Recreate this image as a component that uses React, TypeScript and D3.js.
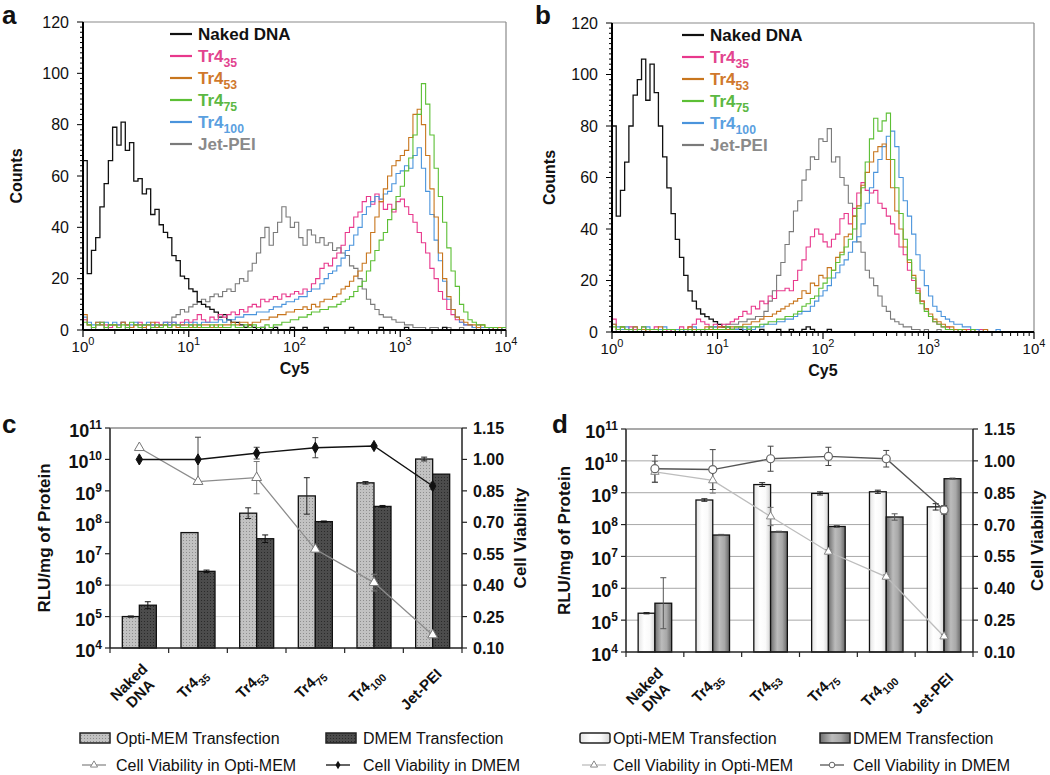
import React from 'react';
import * as d3 from 'd3';

const FONT = '"Liberation Sans", Arial, Helvetica, sans-serif';

// ---------- Histogram data (panels a, b) ----------
// channel i covers Cy5 = 10^(i*LOG_STEP)
const LOG_STEP = 0.04;
const HIST_NAMES = ['Naked DNA', 'Tr4', 'Tr4', 'Tr4', 'Tr4', 'Jet-PEI'];
const HIST_SUBS = ['', '35', '53', '75', '100', ''];
const HIST_COLORS = ['#111111', '#e8388c', '#c8761e', '#5cbf35', '#4a94dc', '#7a7a7a'];
const HIST_TEXT_COLORS = ['#111111', '#e2448f', '#d0782c', '#5cb843', '#5aa0e0', '#8a8a8a'];
const COUNT_TICKS = [0, 20, 40, 60, 80, 100, 120];
const CY5_DECADES = [0, 1, 2, 3, 4];

const aNaked = [66, 22, 31, 36, 48, 57, 66, 79, 72, 81, 70, 73, 58, 59, 53, 55, 45, 47, 41, 38, 36, 29, 27, 21, 20, 16, 15, 11, 10, 9, 8, 7, 5, 6, 4, 3, 3, 2, 1, 2,
  1, 0, 1, 0, 0, 1, 0, 0, 0, 1, 0, 0, 1, 0, 0, 0, 0, 1, 0, 0, 0, 0, 0, 1, 0, 0, 0, 0, 0, 0, 1, 0, 0, 0, 0, 0, 1, 0, 0, 0, 0, 0, 0, 0, 0, 1, 0, 0, 0, 0, 0, 0, 0, 0, 0, 0, 0, 0, 0, 0];
const aTr35 = [4, 2, 1, 2, 3, 2, 1, 2, 2, 3, 2, 1, 2, 3, 2, 2, 2, 3, 2, 3, 2, 3, 2, 3, 4, 3, 4, 6, 4, 3, 5, 4, 6, 5, 6, 7, 6, 8, 7, 9,
  10, 9, 12, 11, 12, 13, 12, 14, 13, 14, 15, 14, 16, 15, 18, 20, 24, 26, 25, 28, 30, 33, 38, 40, 44, 46, 50, 52, 49, 53, 50, 47, 49, 46, 50, 51, 48, 45, 42, 38,
  34, 30, 24, 20, 15, 12, 8, 6, 4, 3, 2, 2, 1, 2, 1, 1, 0, 1, 0, 1];
const aTr53 = [6, 2, 1, 3, 2, 1, 2, 2, 1, 3, 2, 1, 2, 2, 1, 2, 3, 1, 2, 2, 1, 2, 1, 2, 2, 1, 2, 1, 2, 2, 1, 2, 1, 2, 2, 3, 2, 3, 3, 2,
  3, 3, 4, 4, 5, 5, 6, 6, 7, 7, 8, 8, 9, 8, 10, 9, 11, 12, 12, 13, 14, 16, 17, 19, 21, 23, 26, 30, 38, 44, 50, 55, 60, 64, 66, 68, 70, 75, 84, 86,
  80, 68, 55, 44, 30, 20, 13, 8, 5, 4, 3, 2, 2, 1, 2, 1, 1, 0, 1, 1];
const aTr75 = [3, 2, 1, 2, 3, 1, 2, 2, 1, 2, 1, 3, 2, 1, 2, 2, 1, 2, 1, 2, 1, 2, 2, 1, 1, 2, 1, 2, 1, 1, 2, 1, 2, 1, 1, 2, 1, 1, 2, 1,
  2, 1, 1, 2, 1, 2, 2, 3, 3, 4, 4, 5, 5, 6, 7, 7, 8, 8, 9, 9, 10, 11, 12, 13, 15, 17, 19, 23, 27, 31, 35, 38, 43, 47, 52, 56, 62, 67, 76, 84,
  96, 88, 76, 63, 52, 42, 32, 23, 17, 10, 7, 4, 3, 2, 2, 1, 1, 1, 0, 1];
const aTr100 = [5, 3, 2, 3, 2, 3, 2, 3, 2, 3, 2, 2, 3, 2, 2, 3, 2, 2, 2, 3, 2, 3, 2, 2, 3, 2, 3, 2, 3, 3, 3, 3, 4, 3, 4, 4, 5, 5, 6, 6,
  6, 7, 7, 7, 8, 9, 9, 10, 11, 11, 12, 13, 13, 15, 16, 16, 18, 20, 22, 23, 25, 28, 31, 33, 37, 40, 45, 48, 50, 52, 51, 53, 54, 57, 61, 62, 64, 63, 68, 71,
  63, 54, 45, 35, 27, 19, 12, 8, 5, 3, 2, 2, 1, 1, 1, 1, 0, 1, 0, 1];
const aJet = [0, 0, 1, 0, 0, 1, 0, 0, 0, 0, 1, 0, 0, 0, 1, 0, 1, 1, 2, 2, 3, 5, 6, 8, 7, 9, 10, 11, 12, 11, 13, 14, 13, 15, 16, 15, 18, 20, 19, 23,
  26, 30, 36, 40, 33, 38, 42, 48, 44, 40, 42, 36, 33, 39, 37, 34, 36, 33, 34, 31, 32, 30, 29, 25, 24, 20, 16, 12, 10, 8, 6, 5, 5, 4, 3, 3, 2, 2, 1, 1,
  1, 0, 1, 1, 0, 0, 1, 0, 0, 1, 0, 0, 0, 1, 0, 0, 0, 1, 0, 0];

const bNaked = [80, 45, 55, 66, 80, 92, 98, 106, 90, 104, 93, 80, 68, 56, 46, 36, 29, 22, 16, 12, 9, 7, 6, 5, 4, 3, 2, 2, 1, 1, 1, 0, 1, 0, 0, 1, 0, 0, 0, 1,
  0, 0, 1, 0, 0, 1, 2, 1, 0, 0, 0, 1, 0, 0, 0, 0, 0, 0, 0, 0, 0, 0, 0, 0, 0, 0, 0, 0, 0, 0, 0, 0, 0, 0, 0, 0, 0, 0, 0, 0, 0, 0, 0, 0, 0, 0, 0, 0, 0, 0,
  0, 0, 0, 0, 0, 0, 0, 0, 0, 0];
const bTr35 = [5, 1, 2, 1, 2, 1, 1, 2, 1, 1, 2, 1, 1, 0, 1, 1, 2, 1, 2, 3, 5, 4, 3, 2, 3, 2, 3, 3, 4, 5, 6, 8, 7, 10, 9, 12, 11, 14, 13, 16,
  16, 17, 16, 20, 24, 28, 33, 37, 40, 38, 35, 33, 36, 38, 44, 46, 42, 48, 54, 58, 55, 54, 55, 50, 48, 45, 42, 38, 33, 30, 24, 20, 17, 12, 9, 6, 4, 3, 2, 2,
  1, 0, 1, 0, 1, 0, 0, 1, 0, 0, 0, 0, 0, 0, 0, 0, 0, 0, 0, 0];
const bTr53 = [3, 1, 2, 1, 1, 2, 1, 1, 0, 1, 1, 2, 1, 1, 1, 0, 1, 1, 2, 1, 1, 1, 2, 1, 1, 2, 2, 1, 2, 2, 2, 3, 3, 4, 4, 5, 6, 6, 7, 8,
  9, 10, 11, 12, 13, 16, 15, 19, 18, 22, 21, 25, 24, 29, 31, 37, 38, 45, 49, 57, 62, 66, 70, 72, 73, 67, 56, 47, 40, 33, 27, 22, 16, 12, 9, 7, 5, 4, 3, 2,
  2, 1, 1, 1, 0, 1, 0, 0, 1, 0, 0, 0, 0, 0, 0, 0, 0, 0, 0, 0];
const bTr75 = [2, 1, 2, 1, 1, 0, 1, 2, 1, 1, 1, 0, 1, 1, 1, 0, 1, 1, 1, 0, 1, 1, 1, 2, 1, 1, 1, 2, 1, 2, 2, 2, 1, 2, 2, 3, 3, 4, 4, 5,
  5, 6, 6, 7, 8, 10, 11, 13, 14, 17, 19, 21, 24, 27, 30, 33, 36, 40, 48, 56, 66, 75, 83, 78, 82, 85, 67, 56, 46, 36, 28, 21, 15, 11, 8, 6, 4, 3, 2, 1,
  1, 0, 1, 0, 0, 1, 0, 0, 0, 0, 0, 0, 0, 0, 0, 0, 0, 0, 0, 0];
const bTr100 = [3, 2, 1, 2, 1, 2, 1, 1, 2, 1, 1, 1, 2, 1, 1, 1, 0, 1, 1, 2, 1, 1, 1, 1, 2, 1, 1, 2, 1, 1, 2, 1, 2, 1, 2, 2, 3, 3, 3, 4,
  4, 5, 5, 6, 7, 8, 8, 10, 12, 14, 16, 18, 21, 23, 26, 28, 31, 35, 37, 42, 50, 56, 62, 67, 72, 76, 78, 72, 60, 51, 45, 38, 30, 24, 18, 14, 10, 8, 6, 5,
  4, 3, 3, 2, 2, 1, 1, 0, 1, 0, 0, 1, 0, 0, 0, 0, 0, 0, 0, 0];
const bJet = [0, 1, 0, 0, 1, 0, 0, 1, 0, 0, 0, 1, 0, 0, 1, 0, 0, 1, 0, 1, 1, 0, 1, 1, 2, 2, 2, 3, 3, 3, 4, 4, 5, 5, 6, 6, 8, 12, 16, 22,
  27, 34, 39, 47, 51, 59, 63, 68, 67, 75, 74, 79, 66, 68, 60, 57, 50, 45, 35, 31, 24, 21, 18, 14, 10, 8, 5, 4, 3, 2, 2, 1, 1, 0, 1, 0, 0, 1, 0, 0,
  0, 0, 0, 1, 0, 0, 0, 0, 0, 0, 0, 0, 0, 0, 0, 0, 0, 0, 0, 0];

// ---------- Bar chart data (panels c, d) ----------
const CAT_NAMES = ['Naked DNA', 'Tr4', 'Tr4', 'Tr4', 'Tr4', 'Jet-PEI'];
const CAT_SUBS = ['', '35', '53', '75', '100', ''];
const RLU_DECADES = [4, 5, 6, 7, 8, 9, 10, 11];
const VIAB_TICKS = [0.10, 0.25, 0.40, 0.55, 0.70, 0.85, 1.00, 1.15];

// RLU/mg protein; errors given as half-width in log10 decades
const cOpti = [1e5, 4.7e7, 1.95e8, 6.9e8, 1.8e9, 1.03e10];
const cOptiErr = [0.02, 0, 0.17, 0.58, 0.04, 0.06];
const cDmem = [2.3e5, 2.75e6, 3.0e7, 1.05e8, 3.2e8, 3.4e9];
const cDmemErr = [0.11, 0.04, 0.12, 0.02, 0.03, 0];
const cViabOpti = [1.056, 0.894, 0.913, 0.571, 0.412, 0.162];
const cViabOptiErr = [0, 0, 0.077, 0, 0.04, 0];
const cViabDmem = [1.0, 1.0, 1.03, 1.056, 1.064, 0.873];
const cViabDmemErr = [0, 0.106, 0.028, 0.048, 0, 0.015];

const dOpti = [1.65e5, 5.9e8, 1.8e9, 9.5e8, 1.07e9, 3.6e8];
const dOptiErr = [0.02, 0.04, 0.06, 0.05, 0.05, 0.1];
const dDmem = [3.4e5, 4.7e7, 5.9e7, 8.7e7, 1.73e8, 2.75e9];
const dDmemErr = [0.8, 0.02, 0.02, 0.03, 0.1, 0.02];
const dViabOpti = [0.948, 0.908, 0.738, 0.572, 0.454, 0.173];
const dViabOptiErr = [0.05, 0.06, 0.043, 0.01, 0.01, 0.01];
const dViabDmem = [0.963, 0.959, 1.01, 1.021, 1.01, 0.769];
const dViabDmemErr = [0.063, 0.094, 0.059, 0.043, 0.039, 0.02];

type Box = { left: number; right: number; top: number; bottom: number };

function Sub({ base, sub, size }: { base: string; sub: string; size: number }) {
  return (
    <>
      {base}
      {sub ? <tspan dy={size * 0.3} fontSize={size * 0.72}>{sub}</tspan> : null}
    </>
  );
}

function Histogram({ box, data, letter, letterX, legendX }: { box: Box; data: number[][]; letter: string; letterX: number; legendX: number }) {
  const { left, right, top, bottom } = box;
  const x = d3.scaleLog().domain([1, 1e4]).range([left, right]);
  const y = d3.scaleLinear().domain([0, 120]).range([bottom, top]);
  const line = d3.line<[number, number]>().x(d => x(d[0])).y(d => y(d[1])).curve(d3.curveStepAfter);
  const pts = (vals: number[]): [number, number][] =>
    vals.map((v, i) => [Math.pow(10, i * LOG_STEP), v] as [number, number]).concat([[1e4, vals[vals.length - 1]]]);
  const order = [5, 0, 1, 4, 2, 3];
  const minorY = d3.range(0, 121, 2);
  const minorX: number[] = [];
  for (let k = 0; k < 4; k++) for (let m = 2; m <= 9; m++) minorX.push(m * Math.pow(10, k));
  return (
    <g fontFamily={FONT}>
      <line x1={left} x2={right} y1={top} y2={top} stroke="#8a8a8a" strokeWidth={1.2} />
      <line x1={right} x2={right} y1={top} y2={bottom} stroke="#8a8a8a" strokeWidth={1.2} />
      {order.map(k => (
        <path key={k} d={line(pts(data[k])) || ''} fill="none" stroke={HIST_COLORS[k]} strokeWidth={k === 0 ? 1.3 : 1.1} />
      ))}
      {/* y axis */}
      <line x1={left} x2={left} y1={top} y2={bottom} stroke="#000" strokeWidth={2} />
      {minorY.map(v => (
        <line key={v} x1={left - (v % 20 === 0 ? 6 : 3)} x2={left} y1={y(v)} y2={y(v)} stroke="#000" strokeWidth={1} />
      ))}
      {COUNT_TICKS.map(v => (
        <text key={v} x={left - 14} y={y(v) + 5.5} textAnchor="end" fontSize={16} fill="#111">{v}</text>
      ))}
      {/* x axis */}
      <line x1={left} x2={right} y1={bottom} y2={bottom} stroke="#000" strokeWidth={2} />
      {minorX.map(v => (
        <line key={v} x1={x(v)} x2={x(v)} y1={bottom} y2={bottom + 4} stroke="#000" strokeWidth={1} />
      ))}
      {CY5_DECADES.map(k => (
        <g key={k}>
          <line x1={x(Math.pow(10, k))} x2={x(Math.pow(10, k))} y1={bottom} y2={bottom + 7} stroke="#000" strokeWidth={1.2} />
          <text x={x(Math.pow(10, k))} y={bottom + 22} textAnchor="middle" fontSize={15} fill="#111">
            10<tspan dy={-7} fontSize={11}>{k}</tspan>
          </text>
        </g>
      ))}
      <text x={(left + right) / 2} y={bottom + 44} textAnchor="middle" fontSize={16} fontWeight="bold" fill="#111">Cy5</text>
      <text transform={`translate(${letterX + 20},${(top + bottom) / 2}) rotate(-90)`} textAnchor="middle" fontSize={16} fontWeight="bold" fill="#111">Counts</text>
      <text x={letterX} y={24} fontSize={26} fontWeight="bold" fill="#111">{letter}</text>
      {/* legend */}
      {HIST_NAMES.map((n, k) => {
        const ly = top + 12 + k * 22;
        return (
          <g key={k}>
            <line x1={legendX} x2={legendX + 22} y1={ly} y2={ly} stroke={HIST_COLORS[k]} strokeWidth={2.2} />
            <text x={legendX + 28} y={ly + 6} fontSize={17} fontWeight="bold" fill={HIST_TEXT_COLORS[k]}>
              <Sub base={n} sub={HIST_SUBS[k]} size={17} />
            </text>
          </g>
        );
      })}
    </g>
  );
}

type BarProps = {
  box: Box; variant: 'c' | 'd';
  opti: number[]; optiErr: number[]; dmem: number[]; dmemErr: number[];
  vOpti: number[]; vOptiErr: number[]; vDmem: number[]; vDmemErr: number[];
  grid: number[]; letter: string; letterX: number; letterY: number;
  leftLabelX: number; rightLabelX: number; legend: { y1: number; y2: number; sw1: number; tx1: number; sw2: number; tx2: number };
};

function BarPanel(p: BarProps) {
  const { left, right, top, bottom } = p.box;
  const y = d3.scaleLog().domain([1e4, 1e11]).range([bottom, top]);
  const yR = d3.scaleLinear().domain([0.1, 1.15]).range([bottom, top]);
  const xb = d3.scaleBand<number>().domain(d3.range(6)).range([left, right]);
  const bw = xb.bandwidth();
  const sub = d3.scaleBand<string>().domain(['o', 'd']).range([0.21 * bw, 0.79 * bw]);
  const cx = (i: number) => (xb(i) as number) + bw / 2;
  const isC = p.variant === 'c';
  const optiFill = isC ? `url(#dotLight)` : `url(#whiteGrad)`;
  const dmemFill = isC ? `url(#dotDark)` : `url(#grayGrad)`;
  const lineGen = d3.line<number>().x((_, i) => cx(i)).y(v => yR(v));
  const tri = d3.symbol(d3.symbolTriangle, isC ? 42 : 30)() || '';
  const dia = d3.symbol(d3.symbolDiamond, 36)() || '';
  const optiLine = isC ? '#8c8c8c' : '#bdbdbd';
  const dmemLine = isC ? '#111' : '#555';

  const errBar = (xc: number, y1: number, y2: number, key: string, color = '#222') => (
    <g key={key} stroke={color} strokeWidth={1}>
      <line x1={xc} x2={xc} y1={y1} y2={y2} />
      <line x1={xc - 3} x2={xc + 3} y1={y1} y2={y1} />
      <line x1={xc - 3} x2={xc + 3} y1={y2} y2={y2} />
    </g>
  );

  return (
    <g fontFamily={FONT}>
      {p.grid.map(k => (
        <line key={k} x1={left} x2={right} y1={y(Math.pow(10, k))} y2={y(Math.pow(10, k))} stroke={isC ? '#dcdcdc' : '#a8a8a8'} strokeWidth={1} />
      ))}
      {/* frame */}
      <line x1={left} x2={right} y1={top} y2={top} stroke="#555" strokeWidth={1.2} />
      {/* bars */}
      {p.opti.map((v, i) => {
        const bx = (xb(i) as number) + (sub('o') as number);
        return <rect key={'o' + i} x={bx} y={y(v)} width={sub.bandwidth()} height={bottom - y(v)} fill={optiFill} stroke="#111" strokeWidth={1.3} />;
      })}
      {p.dmem.map((v, i) => {
        const bx = (xb(i) as number) + (sub('d') as number);
        return <rect key={'d' + i} x={bx} y={y(v)} width={sub.bandwidth()} height={bottom - y(v)} fill={dmemFill} stroke="#111" strokeWidth={1.3} />;
      })}
      {p.opti.map((v, i) => {
        const e = p.optiErr[i];
        if (!e) return null;
        const xc = (xb(i) as number) + (sub('o') as number) + sub.bandwidth() / 2;
        return errBar(xc, y(v / Math.pow(10, e)), y(v * Math.pow(10, e)), 'oe' + i);
      })}
      {p.dmem.map((v, i) => {
        const e = p.dmemErr[i];
        if (!e) return null;
        const xc = (xb(i) as number) + (sub('d') as number) + sub.bandwidth() / 2;
        return errBar(xc, y(v / Math.pow(10, e)), y(v * Math.pow(10, e)), 'de' + i, isC ? '#111' : '#555');
      })}
      {/* viability lines */}
      <path d={lineGen(p.vOpti) || ''} fill="none" stroke={optiLine} strokeWidth={1.3} />
      <path d={lineGen(p.vDmem) || ''} fill="none" stroke={dmemLine} strokeWidth={1.4} />
      {p.vOpti.map((v, i) => p.vOptiErr[i] ? errBar(cx(i), yR(v - p.vOptiErr[i]), yR(v + p.vOptiErr[i]), 'voe' + i, '#777') : null)}
      {p.vDmem.map((v, i) => p.vDmemErr[i] ? errBar(cx(i), yR(v - p.vDmemErr[i]), yR(v + p.vDmemErr[i]), 'vde' + i, '#444') : null)}
      {p.vOpti.map((v, i) => (
        <path key={'vo' + i} d={tri} transform={`translate(${cx(i)},${yR(v)})`} fill="#fff" stroke={isC ? '#777' : '#888'} strokeWidth={1} />
      ))}
      {p.vDmem.map((v, i) => isC ? (
        <path key={'vd' + i} d={dia} transform={`translate(${cx(i)},${yR(v)})`} fill="#111" stroke="#111" />
      ) : (
        <circle key={'vd' + i} cx={cx(i)} cy={yR(v)} r={4} fill="#fff" stroke="#666" strokeWidth={1.2} />
      ))}
      {/* axes */}
      <line x1={left} x2={left} y1={top} y2={bottom} stroke="#555" strokeWidth={2} />
      <line x1={right} x2={right} y1={top} y2={bottom} stroke="#222" strokeWidth={1.5} />
      <line x1={left} x2={right} y1={bottom} y2={bottom} stroke="#222" strokeWidth={1.5} />
      {RLU_DECADES.map(k => (
        <g key={k}>
          <line x1={left - 5} x2={left} y1={y(Math.pow(10, k))} y2={y(Math.pow(10, k))} stroke="#222" strokeWidth={1.2} />
          <text x={left - 8} y={y(Math.pow(10, k)) + 9} textAnchor="end" fontSize={18} fontWeight="bold" fill="#111">
            10<tspan dy={-8} fontSize={12}>{k}</tspan>
          </text>
        </g>
      ))}
      {VIAB_TICKS.map(v => (
        <g key={v}>
          <line x1={right} x2={right + 5} y1={yR(v)} y2={yR(v)} stroke="#222" strokeWidth={1.2} />
          <text x={right + 11} y={yR(v) + 6} fontSize={16} fontWeight="bold" fill="#111">{v.toFixed(2)}</text>
        </g>
      ))}
      {d3.range(7).map(i => {
        const xv = i < 6 ? (xb(i) as number) : right;
        return <line key={i} x1={xv} x2={xv} y1={bottom} y2={bottom + 5} stroke="#222" strokeWidth={1.2} />;
      })}
      {CAT_NAMES.map((n, i) => {
        const tx = cx(i) + 10, ty = bottom + 27;
        if (n === 'Naked DNA') {
          return (
            <g key={i} transform={`translate(${tx - 2},${ty - 4}) rotate(-45)`}>
              <text x={-21} y={0} textAnchor="middle" fontSize={15} fontWeight="bold" fill="#111">Naked</text>
              <text x={-21} y={16} textAnchor="middle" fontSize={15} fontWeight="bold" fill="#111">DNA</text>
            </g>
          );
        }
        return (
          <g key={i} transform={`translate(${tx},${ty}) rotate(-45)`}>
            <text x={0} y={0} textAnchor="end" fontSize={15} fontWeight="bold" fill="#111">
              <Sub base={n} sub={CAT_SUBS[i]} size={15} />
            </text>
          </g>
        );
      })}
      <text transform={`translate(${p.leftLabelX},${(top + bottom) / 2}) rotate(-90)`} textAnchor="middle" fontSize={17} fontWeight="bold" fill="#111">RLU/mg of Protein</text>
      <text transform={`translate(${p.rightLabelX},${(top + bottom) / 2}) rotate(-90)`} textAnchor="middle" fontSize={17} fontWeight="bold" fill="#111">Cell Viability</text>
      <text x={p.letterX} y={p.letterY} fontSize={26} fontWeight="bold" fill="#111">{p.letter}</text>
      {/* legend */}
      <g fontSize={16} fill="#111">
        <rect x={p.legend.sw1} y={p.legend.y1 - 5} width={30} height={10} rx={isC ? 0 : 2} fill={optiFill} stroke="#222" strokeWidth={1.5} />
        <text x={p.legend.tx1} y={p.legend.y1 + 6}>Opti-MEM Transfection</text>
        <rect x={p.legend.sw2} y={p.legend.y1 - 5} width={30} height={10} fill={dmemFill} stroke="#222" strokeWidth={1.5} />
        <text x={p.legend.tx2} y={p.legend.y1 + 6}>DMEM Transfection</text>
        <line x1={p.legend.sw1 + 2} x2={p.legend.sw1 + 26} y1={p.legend.y2} y2={p.legend.y2} stroke={optiLine} strokeWidth={1.3} />
        <path d={d3.symbol(d3.symbolTriangle, 22)() || ''} transform={`translate(${p.legend.sw1 + 14},${p.legend.y2})`} fill="#fff" stroke="#888" />
        <text x={p.legend.tx1} y={p.legend.y2 + 6}>Cell Viability in Opti-MEM</text>
        <line x1={p.legend.sw2} x2={p.legend.sw2 + 24} y1={p.legend.y2} y2={p.legend.y2} stroke={dmemLine} strokeWidth={1.3} />
        {isC ? (
          <path d={d3.symbol(d3.symbolDiamond, 22)() || ''} transform={`translate(${p.legend.sw2 + 12},${p.legend.y2})`} fill="#111" />
        ) : (
          <circle cx={p.legend.sw2 + 12} cy={p.legend.y2} r={2.8} fill="#fff" stroke="#666" />
        )}
        <text x={p.legend.tx2} y={p.legend.y2 + 6}>Cell Viability in DMEM</text>
      </g>
    </g>
  );
}

export default function App() {
  return (
    <svg width={1050} height={775} style={{ position: 'absolute', left: 0, top: 0, background: '#fff' }}>
      <defs>
        <pattern id="dotLight" width={3} height={3} patternUnits="userSpaceOnUse">
          <rect width={3} height={3} fill="#c2c2c2" />
          <rect width={1} height={1} fill="#8e8e8e" />
        </pattern>
        <pattern id="dotDark" width={3} height={3} patternUnits="userSpaceOnUse">
          <rect width={3} height={3} fill="#4c4c4c" />
          <rect width={1} height={1} fill="#2a2a2a" />
        </pattern>
        <linearGradient id="whiteGrad" x1="0" x2="1" y1="0" y2="0">
          <stop offset="0%" stopColor="#e4e4e4" />
          <stop offset="35%" stopColor="#ffffff" />
          <stop offset="70%" stopColor="#fafafa" />
          <stop offset="100%" stopColor="#d4d4d4" />
        </linearGradient>
        <linearGradient id="grayGrad" x1="0" x2="1" y1="0" y2="0">
          <stop offset="0%" stopColor="#6e6e6e" />
          <stop offset="40%" stopColor="#bcbcbc" />
          <stop offset="70%" stopColor="#a8a8a8" />
          <stop offset="100%" stopColor="#666666" />
        </linearGradient>
      </defs>
      <rect width={1050} height={775} fill="#fff" />
      <Histogram box={{ left: 83, right: 506, top: 22, bottom: 330 }} data={[aNaked, aTr35, aTr53, aTr75, aTr100, aJet]} letter="a" letterX={2} legendX={170} />
      <Histogram box={{ left: 612, right: 1034, top: 23, bottom: 332 }} data={[bNaked, bTr35, bTr53, bTr75, bTr100, bJet]} letter="b" letterX={535} legendX={682} />
      <BarPanel box={{ left: 110, right: 462, top: 428, bottom: 648 }} variant="c"
        opti={cOpti} optiErr={cOptiErr} dmem={cDmem} dmemErr={cDmemErr}
        vOpti={cViabOpti} vOptiErr={cViabOptiErr} vDmem={cViabDmem} vDmemErr={cViabDmemErr}
        grid={[5, 6]} letter="c" letterX={2} letterY={433} leftLabelX={50} rightLabelX={526}
        legend={{ y1: 738, y2: 765, sw1: 80, tx1: 116, sw2: 326, tx2: 363 }} />
      <BarPanel box={{ left: 626, right: 973, top: 429, bottom: 652 }} variant="d"
        opti={dOpti} optiErr={dOptiErr} dmem={dDmem} dmemErr={dDmemErr}
        vOpti={dViabOpti} vOptiErr={dViabOptiErr} vDmem={dViabDmem} vDmemErr={dViabDmemErr}
        grid={[5, 6, 7, 8, 9, 10]} letter="d" letterX={552} letterY={433} leftLabelX={570} rightLabelX={1043}
        legend={{ y1: 738, y2: 765, sw1: 580, tx1: 613, sw2: 820, tx2: 853 }} />
    </svg>
  );
}
